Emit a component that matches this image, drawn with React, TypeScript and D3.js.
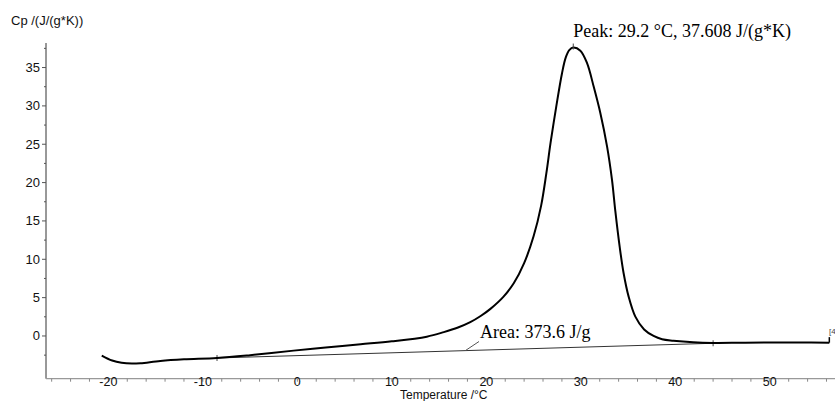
import React from "react";
import { scaleLinear, line, curveCatmullRom, range } from "d3";

// measured DSC curve: temperature (°C) and Cp (J/(g*K))
const temps = [
  -20.7, -19.6, -18.6, -17.5, -16.6, -14.5, -12, -8.5, -5, -0.4, 3, 6.7, 10,
  13.7, 15.5, 17.0, 18.3, 19.4, 20.4, 21.8, 22.9, 24.0, 25.0, 25.8, 26.35, 26.8,
  27.4, 28.0, 28.4, 28.8, 29.2, 29.95, 30.66, 31.36, 32.07, 32.78, 33.3, 33.65,
  34.11, 34.53, 35.06, 35.77, 36.7, 37.7, 38.6, 39.8, 41.9, 44, 47, 50, 53,
  56.3,
];
const cpValues = [
  -2.55, -3.2, -3.5, -3.6, -3.55, -3.26, -3.05, -2.87, -2.5, -1.91, -1.5,
  -1.08, -0.7, -0.09, 0.5, 1.1, 1.8, 2.6, 3.5, 5.1, 6.87, 9.5, 13.0, 17.0,
  21.2, 25.2, 29.9, 34.2, 36.3, 37.3, 37.608, 37.2, 35.57, 32.52, 29.05, 24.69,
  20.35, 16.3, 11.65, 8.18, 5.13, 2.52, 0.85, 0.0, -0.43, -0.62, -0.82, -0.9,
  -0.88, -0.86, -0.85, -0.87,
];

// integration baseline (start, end)
const baseTemps = [-8.5, 44];
const baseCp = [-2.87, -0.95];

// little step at the end of the run
const endTemps = [56.3, 56.3];
const endCp = [-0.87, -0.15];

const peak = { t: 29.2, cp: 37.608 };

const xTickLabels = [-20, -10, 0, 10, 20, 30, 40, 50];
const yTickLabels = [0, 5, 10, 15, 20, 25, 30, 35];

const W = 835;
const H = 401;

export default function App() {
  const x = scaleLinear().domain([-26.6, 56.9]).range([46, 835]);
  const y = scaleLinear().domain([-5.57, 38.2]).range([378.7, 43]);

  const pts = temps.map((t, i) => [t, cpValues[i]] as [number, number]);
  const curve = line<[number, number]>()
    .x((d) => x(d[0]))
    .y((d) => y(d[1]))
    .curve(curveCatmullRom.alpha(0.5));
  const straight = line<[number, number]>()
    .x((d) => x(d[0]))
    .y((d) => y(d[1]));

  const basePts = baseTemps.map((t, i) => [t, baseCp[i]] as [number, number]);
  const endPts = endTemps.map((t, i) => [t, endCp[i]] as [number, number]);

  const xMinor = range(-26, 57, 2);
  const yMinor = range(-2.5, 38, 2.5);
  const axisY = y.range()[0];
  const axisX = x.range()[0];

  const sans = "'Liberation Sans', Arial, sans-serif";
  const serif = "'Liberation Serif', 'Times New Roman', serif";

  return (
    <svg
      width={W}
      height={H}
      style={{ position: "absolute", left: 0, top: 0, background: "#fff" }}
    >
      {/* y axis */}
      <line x1={axisX} x2={axisX} y1={43} y2={axisY} stroke="#333" />
      {yMinor.map((v) => (
        <line
          key={"ym" + v}
          x1={axisX - (v % 5 === 0 ? 4 : 2)}
          x2={axisX}
          y1={y(v)}
          y2={y(v)}
          stroke="#555"
        />
      ))}
      {yTickLabels.map((v) => (
        <text
          key={"yl" + v}
          x={40}
          y={y(v) + 4.5}
          textAnchor="end"
          fontFamily={sans}
          fontSize={13}
          fill="#111"
        >
          {v}
        </text>
      ))}
      <text x={11} y={25} fontFamily={sans} fontSize={13} fill="#111">
        Cp /(J/(g*K))
      </text>

      {/* x axis */}
      <line x1={axisX} x2={W} y1={axisY} y2={axisY} stroke="#999" strokeWidth={1.3} />
      {xMinor.map((v) => (
        <line
          key={"xm" + v}
          x1={x(v)}
          x2={x(v)}
          y1={axisY}
          y2={axisY + 3}
          stroke="#888"
        />
      ))}
      {xTickLabels.map((v) => (
        <text
          key={"xl" + v}
          x={x(v)}
          y={385.5}
          textAnchor="middle"
          fontFamily={sans}
          fontSize={12.5}
          fill="#111"
        >
          {v}
        </text>
      ))}
      <text x={400} y={398.5} fontFamily={sans} fontSize={12} fill="#111">
        Temperature /°C
      </text>

      {/* baseline */}
      <path d={straight(basePts) || ""} fill="none" stroke="#333" strokeWidth={1} />
      {basePts.map((p, i) => (
        <g key={"bp" + i} stroke="#444">
          <line x1={x(p[0])} x2={x(p[0])} y1={y(p[1]) - 3} y2={y(p[1]) + 3} />
        </g>
      ))}

      {/* curve */}
      <path d={curve(pts) || ""} fill="none" stroke="#000" strokeWidth={2} />
      <path d={straight(endPts) || ""} fill="none" stroke="#000" strokeWidth={1.5} />

      {/* peak marker + label */}
      <line
        x1={x(peak.t)}
        x2={x(peak.t)}
        y1={y(peak.cp) - 4}
        y2={y(peak.cp) + 2}
        stroke="#444"
      />
      <text x={x(peak.t)} y={37} fontFamily={serif} fontSize={18} fill="#000">
        Peak: 29.2 °C, 37.608 J/(g*K)
      </text>

      {/* area label */}
      <line x1={465.5} y1={350.5} x2={479} y2={341.5} stroke="#555" />
      <text x={480} y={338} fontFamily={serif} fontSize={18} fill="#000">
        Area: 373.6 J/g
      </text>

      <text x={829} y={334} fontFamily={sans} fontSize={8} fill="#444">
        [4
      </text>
    </svg>
  );
}
